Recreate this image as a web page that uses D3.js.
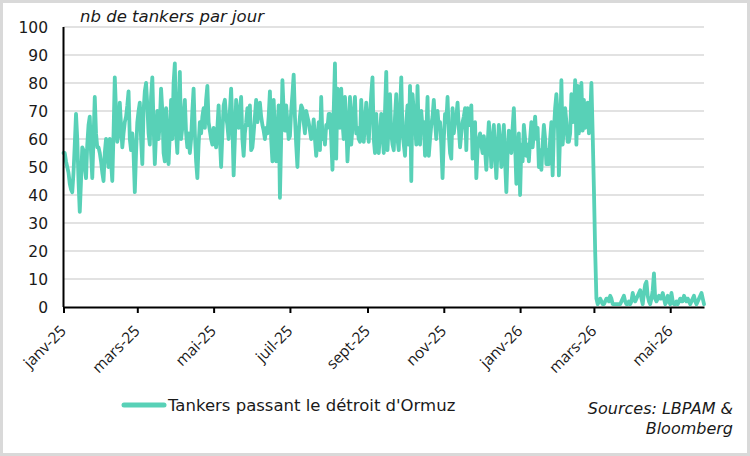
<!DOCTYPE html>
<html lang="fr">
<head>
<meta charset="utf-8">
<script src="https://cdn.jsdelivr.net/npm/d3@7"></script>
<style>
  body { margin: 0; background: #fff; }
  svg { display: block; }
</style>
</head>
<body>
<div id="chart"></div>
<script>
// Daily counts starting 1 Jan 2025
const startDay = "2025-01-01";
const tankers = [
  55, 55, 52, 50, 48, 44, 42, 41, 48, 58,
  69, 60, 45, 34, 45, 57, 56, 50, 46, 58,
  65, 68, 55, 46, 60, 75, 62, 57, 57, 55,
  52, 48, 45, 55, 60, 55, 50, 60, 52, 45,
  62, 82, 70, 59, 62, 73, 65, 57, 62, 66,
  68, 72, 77, 60, 56, 62, 55, 41, 55, 66,
  70, 73, 60, 51, 70, 77, 80, 72, 62, 58,
  75, 82, 65, 51, 62, 70, 60, 66, 78, 70,
  55, 52, 71, 60, 51, 62, 74, 60, 80, 87,
  62, 55, 70, 84, 60, 64, 68, 74, 62, 57,
  62, 55, 60, 70, 78, 62, 52, 46, 58, 66,
  62, 68, 71, 64, 74, 79, 66, 63, 60, 58,
  64, 60, 57, 64, 72, 60, 50, 62, 72, 74,
  68, 65, 60, 70, 78, 65, 47, 60, 74, 68,
  64, 70, 75, 60, 54, 62, 66, 71, 65, 72,
  56, 57, 62, 68, 74, 66, 70, 73, 68, 65,
  63, 60, 64, 62, 68, 77, 60, 52, 74, 62,
  52, 62, 72, 39, 60, 81, 70, 63, 72, 66,
  60, 61, 70, 76, 83, 68, 58, 50, 62, 68,
  72, 71, 66, 62, 70, 68, 66, 63, 60, 62,
  67, 60, 54, 60, 66, 56, 75, 60, 62, 58,
  65, 64, 69, 69, 60, 49, 70, 87, 53, 78,
  70, 64, 78, 66, 60, 75, 66, 52, 62, 75,
  58, 64, 70, 75, 62, 64, 60, 59, 74, 65,
  59, 66, 73, 64, 59, 68, 76, 82, 60, 55,
  69, 56, 55, 62, 69, 62, 55, 70, 84, 56,
  66, 76, 62, 58, 56, 68, 76, 60, 56, 70,
  82, 62, 58, 54, 66, 72, 58, 79, 45, 76,
  70, 66, 58, 79, 62, 58, 70, 64, 66, 54,
  62, 75, 54, 60, 65, 68, 74, 66, 60, 70,
  64, 66, 58, 46, 60, 69, 66, 75, 62, 55,
  53, 71, 62, 66, 68, 73, 64, 57, 62, 66,
  68, 71, 56, 71, 65, 68, 72, 53, 60, 66,
  46, 56, 60, 62, 58, 55, 61, 56, 49, 58,
  66, 60, 50, 58, 65, 55, 46, 56, 65, 58,
  50, 58, 65, 52, 41, 55, 63, 60, 55, 64,
  71, 58, 44, 55, 62, 40, 58, 52, 65, 60,
  54, 58, 52, 60, 66, 57, 62, 68, 60, 64,
  50, 56, 49, 58, 65, 60, 51, 56, 51, 60,
  66, 47, 63, 71, 76, 69, 47, 62, 81, 58,
  64, 71, 66, 59, 59, 62, 76, 66, 70, 81,
  58, 79, 62, 68, 80, 63, 74, 64, 66, 73,
  62, 68, 80, 62, 42, 20, 3, 1, 2, 3,
  2, 1, 1, 2, 3, 3, 2, 4, 3, 1,
  1, 1, 1, 1, 1, 1, 2, 3, 4, 2,
  1, 1, 2, 1, 2, 5, 3, 2, 3, 4,
  5, 6, 3, 1, 5, 8, 9, 4, 2, 1,
  3, 6, 12, 3, 2, 3, 4, 3, 3, 5,
  3, 1, 2, 4, 2, 1, 5, 2, 1, 1,
  2, 1, 2, 3, 2, 2, 4, 3, 2, 3,
  2, 1, 2, 3, 4, 2, 1, 2, 3, 4,
  5, 3, 1
];
const endDay = "2026-05-28";
const tickDates = ["2025-01-01", "2025-03-01", "2025-05-01", "2025-07-01", "2025-09-01",
                   "2025-11-01", "2026-01-01", "2026-03-01", "2026-05-01"];
const tickLabels = ["janv-25", "mars-25", "mai-25", "juil-25", "sept-25",
                    "nov-25", "janv-26", "mars-26", "mai-26"];
const yTicks = [0, 10, 20, 30, 40, 50, 60, 70, 80, 90, 100];
const yTitle = "nb de tankers par jour";
const seriesLabel = "Tankers passant le détroit d'Ormuz";
const sourceLines = ["Sources: LBPAM &", "Bloomberg"];

const width = 750;
const height = 456;
const teal = "#58d1b7";
const font = "'DejaVu Sans', sans-serif";

const parseDay = d3.utcParse("%Y-%m-%d");
const data = tankers.map((v, i) => ({ date: d3.utcDay.offset(parseDay(startDay), i), value: v }));

const xScale = d3.scaleUtc()
  .domain([parseDay(startDay), parseDay(endDay)])
  .range([63.5, 704]);

const yScale = d3.scaleLinear()
  .domain([0, 100])
  .range([307, 27]);

const svg = d3.select("#chart")
  .append("svg")
    .attr("width", width)
    .attr("height", height);

// grey frame round the picture
svg.append("rect")
  .attr("x", 1.5)
  .attr("y", 1.5)
  .attr("width", width - 3)
  .attr("height", height - 3)
  .attr("fill", "#fff")
  .attr("stroke", "#d9d9d9")
  .attr("stroke-width", 3);

// horizontal gridlines
svg.append("g")
  .selectAll("line")
  .data(yTicks.filter(d => d > 0))
  .join("line")
    .attr("x1", xScale.range()[0])
    .attr("x2", xScale.range()[1])
    .attr("y1", d => yScale(d))
    .attr("y2", d => yScale(d))
    .attr("stroke", "#d9d9d9")
    .attr("stroke-width", 1.5);

// y labels
svg.append("g")
  .selectAll("text")
  .data(yTicks)
  .join("text")
    .attr("x", 48)
    .attr("y", d => yScale(d))
    .attr("dy", "0.36em")
    .attr("text-anchor", "end")
    .attr("font-family", font)
    .attr("font-size", 15.5)
    .attr("fill", "#1a1a1a")
    .text(d => d);

// x axis with custom French month labels
const xAxis = d3.axisBottom(xScale)
  .tickValues(tickDates.map(parseDay))
  .tickSize(6)
  .tickSizeOuter(0)
  .tickFormat((d, i) => tickLabels[i]);

const xg = svg.append("g")
  .attr("transform", `translate(0, ${yScale(0)})`)
  .call(xAxis);

xg.select(".domain")
  .attr("stroke", "#000")
  .attr("stroke-width", 2);

xg.selectAll(".tick line")
  .attr("stroke", "#000")
  .attr("stroke-width", 2);

xg.selectAll(".tick text")
  .attr("font-family", "'Open Sans', sans-serif")
  .attr("font-size", 15.5)
  .attr("fill", "#1a1a1a")
  .attr("text-anchor", "end")
  .attr("y", 0)
  .attr("dy", 0)
  .attr("transform", "translate(3, 25) rotate(-45)");

// the series, drawn over the axis line
svg.append("path")
  .datum(data)
  .attr("fill", "none")
  .attr("stroke", teal)
  .attr("stroke-width", 3.8)
  .attr("stroke-linejoin", "round")
  .attr("stroke-linecap", "round")
  .attr("d", d3.line()
    .x(d => xScale(d.date))
    .y(d => yScale(d.value)));

// y axis line
svg.append("line")
  .attr("x1", xScale.range()[0])
  .attr("x2", xScale.range()[0])
  .attr("y1", yScale(100))
  .attr("y2", yScale(0))
  .attr("stroke", "#000")
  .attr("stroke-width", 2);

// title above the plot
svg.append("text")
  .attr("x", 80)
  .attr("y", 22)
  .attr("font-family", font)
  .attr("font-style", "italic")
  .attr("font-size", 16.5)
  .attr("fill", "#1a1a1a")
  .text(yTitle);

// legend
svg.append("line")
  .attr("x1", 124)
  .attr("x2", 164)
  .attr("y1", 405)
  .attr("y2", 405)
  .attr("stroke", teal)
  .attr("stroke-width", 5)
  .attr("stroke-linecap", "round");

svg.append("text")
  .attr("x", 168)
  .attr("y", 411)
  .attr("font-family", font)
  .attr("font-size", 16.5)
  .attr("fill", "#1a1a1a")
  .text(seriesLabel);

// source note, right aligned
svg.append("g")
  .selectAll("text")
  .data(sourceLines)
  .join("text")
    .attr("x", 733)
    .attr("y", (d, i) => 414 + i * 20)
    .attr("text-anchor", "end")
    .attr("font-family", font)
    .attr("font-style", "italic")
    .attr("font-size", 16)
    .attr("fill", "#1a1a1a")
    .text(d => d);
</script>
</body>
</html>
